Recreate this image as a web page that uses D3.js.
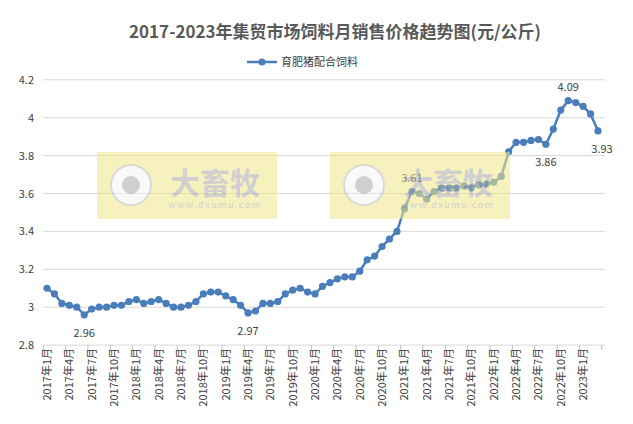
<!DOCTYPE html>
<html><head><meta charset="utf-8">
<script src="https://cdn.jsdelivr.net/npm/d3@7"></script>
<style>body{margin:0;background:#fff}svg{display:block}</style>
</head><body><svg id="c" width="633" height="424"></svg>
<script>
const years=[2017,2018,2019,2020,2021,2022,2023];
const values=[
3.10,3.07,3.02,3.01,3.00,2.96,2.99,3.00,3.00,3.01,3.01,3.03,
3.04,3.02,3.03,3.04,3.02,3.00,3.00,3.01,3.03,3.07,3.08,3.08,
3.06,3.04,3.01,2.97,2.98,3.02,3.02,3.03,3.07,3.09,3.10,3.08,
3.07,3.11,3.13,3.15,3.16,3.16,3.19,3.25,3.27,3.32,3.36,3.40,
3.52,3.61,3.60,3.57,3.61,3.63,3.63,3.63,3.64,3.63,3.645,3.65,
3.66,3.69,3.82,3.87,3.87,3.88,3.885,3.86,3.94,4.04,4.09,4.08,
4.06,4.02,3.93];
const months=values.map((v,i)=>years[Math.floor(i/12)]+"年"+(i%12+1)+"月");
const yTicks=[2.8,3,3.2,3.4,3.6,3.8,4,4.2];
const labels=[{i:5,t:"2.96",pos:"b"},{i:27,t:"2.97",pos:"b"},{i:49,t:"3.61",pos:"t"},{i:67,t:"3.86",pos:"b"},{i:70,t:"4.09",pos:"t"},{i:74,t:"3.93",pos:"b"}];
const seriesName="育肥猪配合饲料";
const title="2017-2023年集贸市场饲料月销售价格趋势图(元/公斤)";

const svg=d3.select("#c");
const font="'Microsoft YaHei','Noto Sans CJK SC',sans-serif";
const x=d3.scalePoint().domain(months).range([47,598]);
const y=d3.scaleLinear().domain([2.8,4.2]).range([345.1,79.8]);
const L=43,R=605;
svg.append("text").attr("x",335).attr("y",38).attr("text-anchor","middle").attr("font-family",font)
 .attr("font-size",17).attr("font-weight","bold").attr("fill","#595959").text(title);
// legend
svg.append("line").attr("x1",247).attr("x2",277).attr("y1",62).attr("y2",62).attr("stroke","#4a7ebb").attr("stroke-width",2.5);
svg.append("circle").attr("cx",262).attr("cy",62).attr("r",3.5).attr("fill","#4a7ebb");
svg.append("text").attr("x",281).attr("y",66).attr("font-family",font).attr("font-size",11).attr("fill","#404040").text(seriesName);
// grid
svg.selectAll(".g").data(yTicks).join("line").attr("x1",L).attr("x2",R).attr("y1",d=>y(d)).attr("y2",d=>y(d)).attr("stroke","#d9d9d9");
svg.selectAll(".yl").data(yTicks).join("text").attr("x",34).attr("y",d=>y(d)+4).attr("text-anchor","end")
 .attr("font-family",font).attr("font-size",11).attr("fill","#404040").text(d=>d);
// x axis ticks & labels
const step=x.step();
const tickIdx=d3.range(0,months.length+1,3);
svg.selectAll(".xt").data(tickIdx).join("line").attr("x1",d=>x(months[0])+(d-0.5)*step).attr("x2",d=>x(months[0])+(d-0.5)*step)
 .attr("y1",345.1).attr("y2",350).attr("stroke","#bfbfbf");
svg.selectAll(".xl").data(months.filter((m,i)=>i%3===0)).join("text")
 .attr("transform",d=>`translate(${x(d)+4},348) rotate(-90)`).attr("text-anchor","end")
 .attr("font-family",font).attr("font-size",11).attr("fill","#404040").text(d=>d);
// line
svg.append("path").datum(values).attr("fill","none").attr("stroke","#4a7ebb").attr("stroke-width",2.5)
 .attr("d",d3.line().x((d,i)=>x(months[i])).y(d=>y(d)));
svg.selectAll(".pt").data(values).join("circle").attr("cx",(d,i)=>x(months[i])).attr("cy",d=>y(d)).attr("r",3.6).attr("fill","#4a7ebb");
// labels
svg.selectAll(".dl").data(labels).join("text").attr("x",d=>x(months[d.i])+(d.i===74?4:0)).attr("y",d=>y(values[d.i])+(d.pos==="t"?-10:22))
 .attr("text-anchor","middle").attr("font-family",font).attr("font-size",11).attr("fill","#404040").text(d=>d.t);
// watermarks
[[97,152],[330,152]].forEach(([bx,by])=>{
 const g=svg.append("g").attr("opacity",0.55);
 g.append("rect").attr("x",bx).attr("y",by).attr("width",180).attr("height",67).attr("fill","#f2e68a");
 g.append("circle").attr("cx",bx+34).attr("cy",by+33).attr("r",20).attr("fill","#f5f5f5").attr("stroke","#bbb").attr("stroke-width",2);
 g.append("circle").attr("cx",bx+34).attr("cy",by+33).attr("r",9).attr("fill","#aaa");
 g.append("text").attr("x",bx+118).attr("y",by+42).attr("text-anchor","middle").attr("font-family",font).attr("font-size",30).attr("font-weight","bold").attr("fill","#aaa").text("大畜牧");
 g.append("text").attr("x",bx+118).attr("y",by+56).attr("text-anchor","middle").attr("font-family",font).attr("font-size",9).attr("fill","#aaa").attr("letter-spacing",1.5).text("www.dxumu.com");
});
</script></body></html>
